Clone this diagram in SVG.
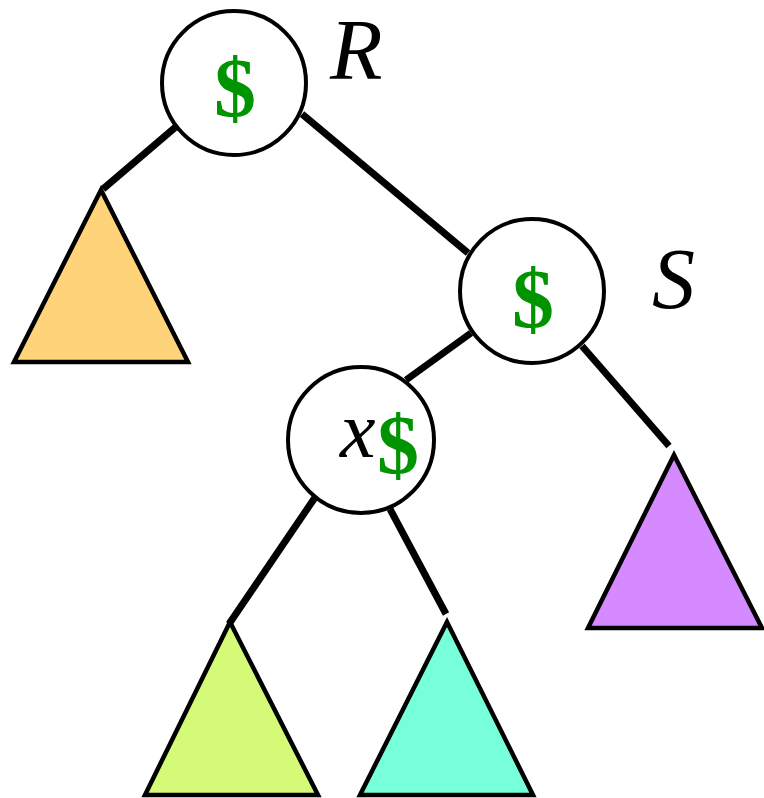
<svg xmlns="http://www.w3.org/2000/svg" width="764" height="798" viewBox="0 0 764 798">
<style>
.edge{stroke:#000;stroke-width:7;fill:none}
.node{fill:#fff;stroke:#000;stroke-width:4}
.tri{stroke:#000;stroke-width:4.5;stroke-linejoin:miter}
.dollar{font-family:"Liberation Serif","DejaVu Serif",serif;font-weight:bold;font-size:84px;fill:#009400;text-anchor:middle}
.lab{font-family:"Liberation Serif","DejaVu Serif",serif;font-style:italic;font-size:86px;fill:#000}
</style>
<rect width="764" height="798" fill="#fff"/>
<g id="connectors">
<line class="edge" x1="178" y1="125" x2="103" y2="189"/>
<line class="edge" x1="302" y1="114" x2="468" y2="253"/>
<line class="edge" x1="471" y1="333" x2="406" y2="380"/>
<line class="edge" x1="582" y1="346" x2="669" y2="446"/>
<line class="edge" x1="316" y1="496" x2="229" y2="624"/>
<line class="edge" x1="390" y1="509" x2="446" y2="614"/>
</g>
<g id="tri-orange"><polygon class="tri" points="101,190 14,362 188,362" fill="#FFD37A"/></g>
<g id="tri-purple"><polygon class="tri" points="674,455 588,628 762,628" fill="#D68AFF"/></g>
<g id="tri-yellowgreen"><polygon class="tri" points="230,622 145,795 318,795" fill="#D4FA78"/></g>
<g id="tri-teal"><polygon class="tri" points="447,622 360,795 533,795" fill="#76FFD8"/></g>
<g id="node-R">
<circle class="node" cx="234" cy="83" r="72"/>
<text class="dollar" x="235" y="117">$</text>
<text class="lab" x="330" y="79">R</text>
</g>
<g id="node-S">
<circle class="node" cx="532" cy="291" r="72"/>
<text class="dollar" x="533" y="328">$</text>
<text class="lab" x="652" y="308">S</text>
</g>
<g id="node-x">
<circle class="node" cx="361" cy="440" r="73"/>
<text class="lab" x="340" y="457" style="font-size:80px">x</text>
<text class="dollar" x="398" y="474">$</text>
</g>
</svg>
